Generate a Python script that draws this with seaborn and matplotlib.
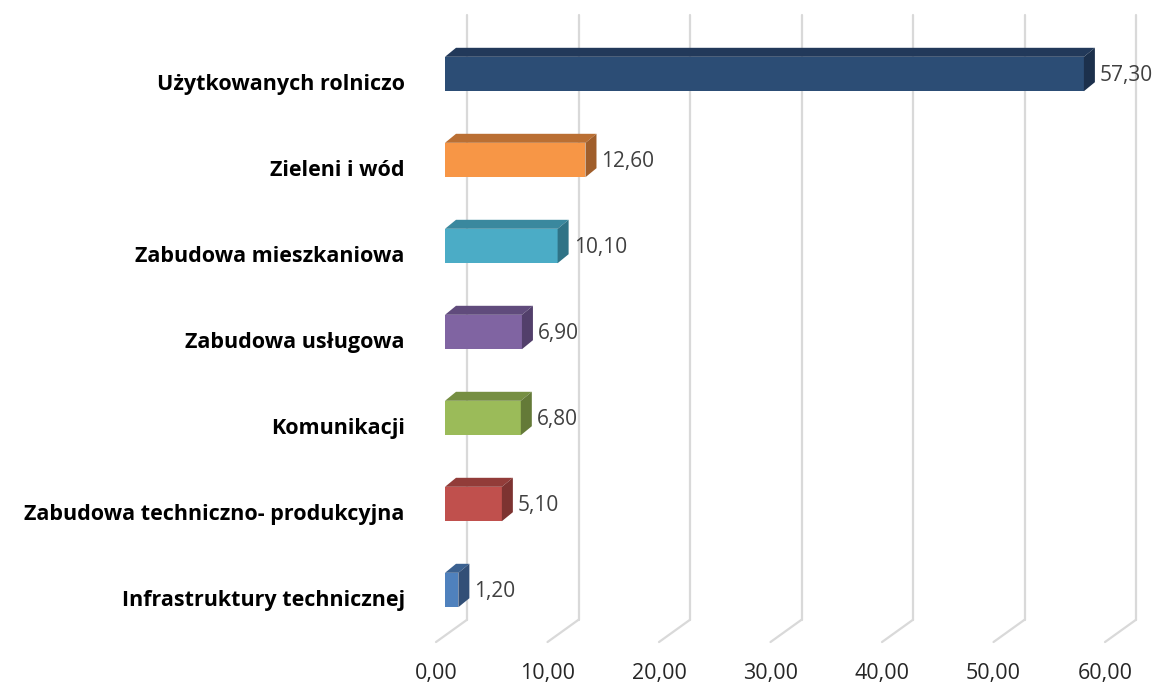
import matplotlib
matplotlib.use("Agg")
import matplotlib.pyplot as plt
import matplotlib.transforms as mtransforms
from matplotlib.patches import Polygon
import seaborn as sns
import pandas as pd

# data
categories = [
    "Użytkowanych rolniczo",
    "Zieleni i wód",
    "Zabudowa mieszkaniowa",
    "Zabudowa usługowa",
    "Komunikacji",
    "Zabudowa techniczno- produkcyjna",
    "Infrastruktury technicznej",
]
values = [57.30, 12.60, 10.10, 6.90, 6.80, 5.10, 1.20]
ticks = [0, 10, 20, 30, 40, 50, 60]
tick_labels = ["0,00", "10,00", "20,00", "30,00", "40,00", "50,00", "60,00"]

front_colors = ["#2C4D75", "#F79646", "#4BACC6", "#8064A2", "#9BBB59", "#C0504D", "#4F81BD"]
top_colors = ["#22395A", "#BA6F33", "#3A889E", "#604B7C", "#768F42", "#923C39", "#3B6190"]
side_colors = ["#1C304C", "#A05E2B", "#2F7386", "#523F6B", "#647A38", "#7D3331", "#324F77"]

df = pd.DataFrame({"kategoria": categories, "wartosc": values})

sns.set_style("white")
plt.rcParams["font.family"] = ["Open Sans", "DejaVu Sans"]

fig = plt.figure(figsize=(11.57, 6.84), dpi=100)
# axes: x 0..60 -> px 445..1114, rows centred at 74..590 px
ax = fig.add_axes([445 / 1157, 51 / 684, 669 / 1157, 602 / 684])

sns.barplot(data=df, x="wartosc", y="kategoria", hue="kategoria", palette=front_colors,
            saturation=1, width=0.4, orient="h", legend=False, ax=ax, zorder=3,
            edgecolor="none")
ax.set_xlim(0, 60)
ax.set_ylim(6.5, -0.5)

def px_off(dx, dy):
    return mtransforms.ScaledTranslation(dx / 100, dy / 100, fig.dpi_scale_trans)

# 3D-looking gridlines: back wall + floor diagonal
grid_trans = mtransforms.blended_transform_factory(ax.transData, ax.transAxes)
for t, lbl in zip(ticks, tick_labels):
    ax.plot([t, t], [1.027, 0.022], color="#D9D9D9", lw=1.6,
            transform=grid_trans + px_off(22, 0), clip_on=False, zorder=1)
    x0, y0 = (grid_trans + px_off(22, 0)).transform((t, 0.022))
    x1, y1 = (grid_trans + px_off(-9, 0)).transform((t, -0.015))
    ax.plot([x0, x1], [y0, y1], color="#D9D9D9", lw=1.6, transform=None,
            clip_on=False, zorder=1)
    ax.text(t, -0.067, lbl, transform=grid_trans + px_off(-9, 0),
            ha="center", va="center", fontsize=15.5, color="#262626")

# depth of bars in data units (11 px right, 9 px up)
ddx = 11 / 11.15
ddy = 9 / 86
for i, patch in enumerate(ax.patches):
    x0 = patch.get_x()
    w = patch.get_width()
    yt = patch.get_y()
    h = patch.get_height()
    x1 = x0 + w
    yb = yt + h
    top = Polygon([(x0, yt), (x1, yt), (x1 + ddx, yt - ddy), (x0 + ddx, yt - ddy)],
                  closed=True, facecolor=top_colors[i], edgecolor="none",
                  clip_on=False, zorder=3)
    side = Polygon([(x1, yt), (x1 + ddx, yt - ddy), (x1 + ddx, yb - ddy), (x1, yb)],
                   closed=True, facecolor=side_colors[i], edgecolor="none",
                   clip_on=False, zorder=3)
    ax.add_patch(top)
    ax.add_patch(side)
    patch.set_clip_on(False)
    ax.text(x1 + ddx + 0.45, i, f"{values[i]:.2f}".replace(".", ","),
            transform=ax.transData + px_off(0, -1),
            ha="left", va="center", fontsize=15, color="#404040")

# category labels
ax.set_xticks([])
ax.set_xlabel("")
ax.set_ylabel("")
ax.tick_params(axis="y", length=0, pad=29)
for lab in ax.get_yticklabels():
    lab.set_fontweight("bold")
    lab.set_fontsize(15.5)
    lab.set_color("black")
    lab.set_transform(lab.get_transform() + px_off(0, -8))
sns.despine(ax=ax, left=True, bottom=True)

fig.savefig("out.png", dpi=100, facecolor="white")
